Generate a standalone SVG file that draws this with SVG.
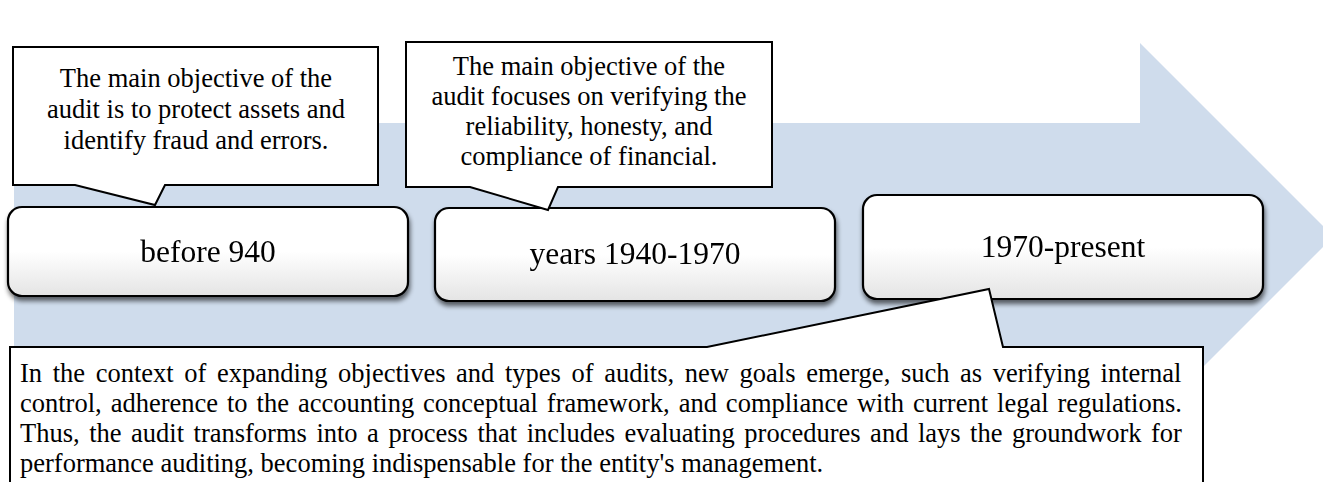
<svg xmlns="http://www.w3.org/2000/svg" width="1323" height="482" viewBox="0 0 1323 482">
  <style>
    .callout { fill: #ffffff; stroke: #000000; stroke-width: 2; stroke-linejoin: miter; }
    .box { fill: url(#boxFill); stroke: #000000; stroke-width: 2.2; }
    .label { font-family: "Liberation Serif", "Times New Roman", serif; font-size: 31.5px; fill: #000000; text-anchor: middle; }
    .note { font-family: "Liberation Serif", "Times New Roman", serif; font-size: 26.5px; fill: #000000; text-anchor: middle; }
    .body { font-family: "Liberation Serif", "Times New Roman", serif; font-size: 26.5px; fill: #000000; }
  </style>
  <defs>
    <linearGradient id="boxFill" x1="0" y1="0" x2="0" y2="1">
      <stop offset="0" stop-color="#ffffff"/>
      <stop offset="0.5" stop-color="#ffffff"/>
      <stop offset="1" stop-color="#e4e4e4"/>
    </linearGradient>
    <filter id="boxShadow" x="-5%" y="-10%" width="110%" height="130%">
      <feGaussianBlur in="SourceAlpha" stdDeviation="2.5"/>
      <feOffset dx="1" dy="4" result="blur"/>
      <feComponentTransfer><feFuncA type="linear" slope="0.6"/></feComponentTransfer>
      <feMerge><feMergeNode/><feMergeNode in="SourceGraphic"/></feMerge>
    </filter>
  </defs>

  <rect width="1323" height="482" fill="#ffffff"/>

  <!-- timeline arrow in the background -->
  <g id="timeline-arrow">
    <polygon points="14,123 1140,123 1140,43 1333.5,236.5 1140,430 1140,350 14,350" fill="#cfdcec"/>
  </g>

  <!-- period boxes -->
  <g id="period-before-1940" filter="url(#boxShadow)">
    <rect class="box" x="8" y="207" width="400" height="89" rx="14"/>
    <text class="label" x="208" y="262">before 940</text>
  </g>
  <g id="period-1940-1970" filter="url(#boxShadow)">
    <rect class="box" x="435" y="208" width="400" height="93" rx="14"/>
    <text class="label" x="635" y="264">years 1940-1970</text>
  </g>
  <g id="period-1970-present" filter="url(#boxShadow)">
    <rect class="box" x="863" y="195" width="400" height="104" rx="14"/>
    <text class="label" x="1063" y="257">1970-present</text>
  </g>

  <!-- speech-bubble notes pointing at the periods -->
  <g id="note-before-1940">
    <path class="callout" d="M13,47 H378 V185 H165 L155,205 L75,185 H13 Z"/>
    <text class="note" x="196" y="87">The main objective of the</text>
    <text class="note" x="196" y="118">audit is to protect assets and</text>
    <text class="note" x="196" y="149">identify fraud and errors.</text>
  </g>
  <g id="note-1940-1970">
    <path class="callout" d="M406,42 H772 V187 H558 L548,210 L470,187 H406 Z"/>
    <text class="note" x="589" y="75">The main objective of the</text>
    <text class="note" x="589" y="105">audit focuses on verifying the</text>
    <text class="note" x="589" y="135">reliability, honesty, and</text>
    <text class="note" x="589" y="165">compliance of financial.</text>
  </g>
  <g id="note-1970-present">
    <path class="callout" d="M10,347 H707 L989,289 L1003,347 H1203 V500 H10 Z"/>
    <text class="body" x="20" y="382" word-spacing="4.0">In the context of expanding objectives and types of audits, new goals emerge, such as verifying internal</text>
    <text class="body" x="20" y="412" word-spacing="2.33">control, adherence to the accounting conceptual framework, and compliance with current legal regulations.</text>
    <text class="body" x="20" y="442" word-spacing="2.89">Thus, the audit transforms into a process that includes evaluating procedures and lays the groundwork for</text>
    <text class="body" x="20" y="472">performance auditing, becoming indispensable for the entity's management.</text>
  </g>
</svg>
